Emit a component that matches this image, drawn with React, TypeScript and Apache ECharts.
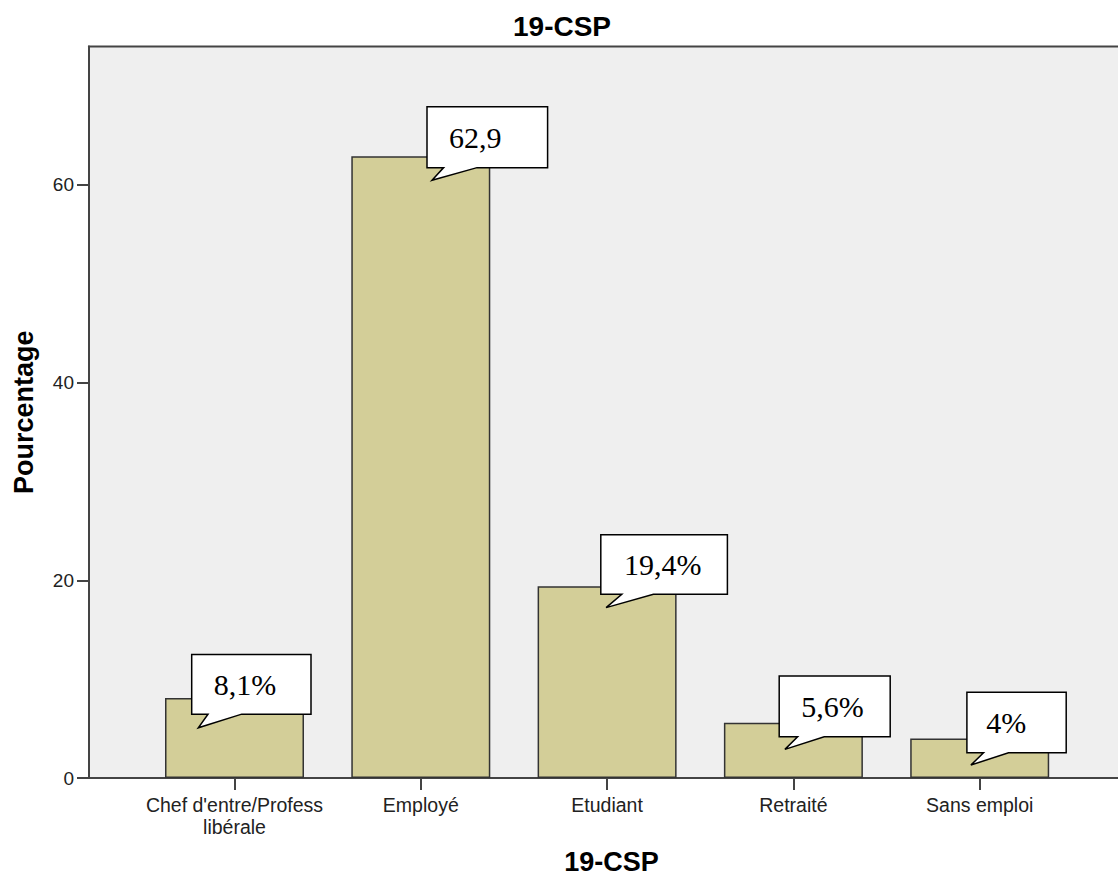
import React, { useEffect, useRef } from "react";
import * as echarts from "echarts";

const chartTitle = "19-CSP";
const xAxisName = "19-CSP";
const yAxisName = "Pourcentage";
const categories = ["Chef d'entre/Profess\nlibérale", "Employé", "Etudiant", "Retraité", "Sans emploi"];
const percentages = [8.1, 62.9, 19.4, 5.6, 4.0];
const calloutTexts = ["8,1%", "62,9", "19,4%", "5,6%", "4%"];
const yTicks = [0, 20, 40, 60];

// callout geometry relative to the top-centre of each bar (pixels)
const calloutLayout = [
  { L: -42.8, R: 76.5, T: -43.5, B: 16.2, a: -26.5, b: 7.2, tx: -36.2, ty: 29.9, textX: 10.5 },
  { L: 6.2, R: 126.8, T: -49.6, B: 11.4, a: 22.8, b: 56.2, tx: 11.2, ty: 24, textX: 54.5 },
  { L: -6.3, R: 120.3, T: -51.6, B: 8.1, a: 14.7, b: 46.3, tx: -1, ty: 21.4, textX: 55.7 },
  { L: -14.2, R: 96.8, T: -46.6, B: 14.1, a: 4.2, b: 30.8, tx: -8.5, ty: 26.7, textX: 39.2 },
  { L: -12.8, R: 86.5, T: -46.1, B: 14.3, a: 3.8, b: 28.8, tx: -8.8, ty: 26.6, textX: 26.5 },
];

export default function App() {
  const ref = useRef<HTMLDivElement>(null);
  useEffect(() => {
    if (!ref.current) return;
    const chart = echarts.init(ref.current, null, { renderer: "svg" });
    const yMax = 74;
    const gridTop = 46.5;
    const gridHeight = 731.5;
    chart.setOption({
      animation: false,
      backgroundColor: "#ffffff",
      title: {
        text: chartTitle,
        left: 557,
        textAlign: "center",
        top: 7,
        textStyle: { fontFamily: "Arial, Liberation Sans", fontWeight: "bold", fontSize: 28, color: "#000" },
      },
      grid: [
        {
          left: 89,
          top: gridTop,
          height: gridHeight,
          width: 1045,
          outerBoundsMode: "none",
          containLabel: false,
          show: true,
          backgroundColor: "#efefef",
          borderColor: "#444",
          borderWidth: 2,
        },
        {
          left: 141.35,
          top: gridTop,
          height: gridHeight,
          width: 931.5,
          outerBoundsMode: "none",
          containLabel: false,
        },
      ],
      xAxis: [
        {
          gridIndex: 0,
          type: "value",
          min: 0,
          max: 1,
          axisLine: { show: true, onZero: false, lineStyle: { color: "#444", width: 2 } },
          axisTick: { show: false },
          axisLabel: { show: false },
          splitLine: { show: false },
          name: xAxisName,
          nameLocation: "middle",
          nameGap: 70,
          nameTextStyle: { fontFamily: "Arial, Liberation Sans", fontWeight: "bold", fontSize: 27, lineHeight: 27, color: "#000" },
        },
        {
          gridIndex: 1,
          type: "category",
          data: categories,
          axisLine: { show: false },
          axisTick: { show: true, alignWithLabel: true, length: 12, lineStyle: { color: "#444", width: 2 } },
          axisLabel: {
            margin: 16,
            fontFamily: "Arial, Liberation Sans",
            fontSize: 19.5,
            lineHeight: 22,
            color: "#222",
            interval: 0,
          },
          splitLine: { show: false },
        },
      ],
      yAxis: [
        {
          gridIndex: 0,
          type: "value",
          min: 0,
          max: yMax,
          interval: 20,
          axisLine: { show: true, lineStyle: { color: "#444", width: 2 } },
          axisTick: { show: true, length: 12, customValues: yTicks, lineStyle: { color: "#444", width: 2 } },
          axisLabel: {
            margin: 15,
            fontFamily: "Arial, Liberation Sans",
            fontSize: 19,
            color: "#222",
            customValues: yTicks,
          },
          splitLine: { show: false },
          name: yAxisName,
          nameLocation: "middle",
          nameGap: 52,
          nameTextStyle: { fontFamily: "Arial, Liberation Sans", fontWeight: "bold", fontSize: 27, color: "#000" },
        },
        { gridIndex: 1, type: "value", min: 0, max: yMax, show: false },
      ],
      series: [
        {
          type: "bar",
          xAxisIndex: 1,
          yAxisIndex: 1,
          data: percentages,
          barWidth: 139,
          itemStyle: { color: "#d3ce98", borderColor: "#333", borderWidth: 1.5 },
        },
      ],
    });

    const elements: any[] = [];
    percentages.forEach((v, i) => {
      const p = chart.convertToPixel({ gridIndex: 1 }, [i, v]) as number[];
      const cx = p[0];
      const cy = p[1];
      const c = calloutLayout[i];
      const pts = [
        [cx + c.L, cy + c.T],
        [cx + c.R, cy + c.T],
        [cx + c.R, cy + c.B],
        [cx + c.b, cy + c.B],
        [cx + c.tx, cy + c.ty],
        [cx + c.a, cy + c.B],
        [cx + c.L, cy + c.B],
      ];
      elements.push({
        type: "polygon",
        z: 100,
        shape: { points: pts },
        style: { fill: "#ffffff", stroke: "#000", lineWidth: 1.5 },
      });
      elements.push({
        type: "text",
        z: 101,
        x: cx + c.textX,
        y: cy + (c.T + c.B) / 2,
        style: {
          text: calloutTexts[i],
          fontFamily: "Liberation Serif, Times New Roman, serif",
          fontSize: 30,
          fill: "#000",
          align: "center",
          verticalAlign: "middle",
        },
      });
    });
    chart.setOption({ graphic: elements });

    return () => chart.dispose();
  }, []);
  return <div ref={ref} style={{ position: "fixed", left: 0, top: 0, width: 1118, height: 879 }} />;
}
